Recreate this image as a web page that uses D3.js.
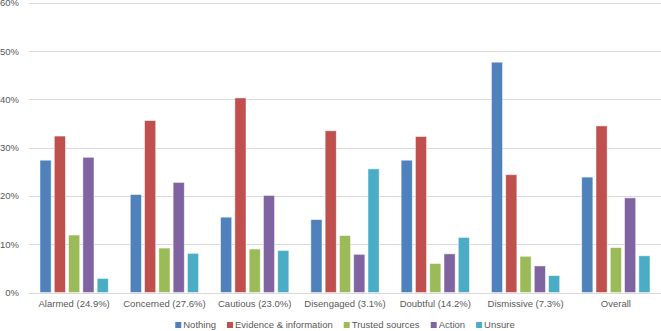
<!DOCTYPE html>
<html>
<head>
<meta charset="utf-8">
<script src="https://cdn.jsdelivr.net/npm/d3@7"></script>
<style>
  html, body { margin: 0; padding: 0; background: #fff; }
  svg { display: block; font-family: "Liberation Sans", Arial, sans-serif; }
</style>
</head>
<body>
<svg width="661" height="331"></svg>
<script>
// segments (x axis)
const categories = ["Alarmed (24.9%)", "Concerned (27.6%)", "Cautious (23.0%)", "Disengaged (3.1%)", "Doubtful (14.2%)", "Dismissive (7.3%)", "Overall"];
const seriesNames = ["Nothing", "Evidence & information", "Trusted sources", "Action", "Unsure"];

// values in percent, one array per series
const nothing   = [27.4, 20.3, 15.6, 15.1, 27.4, 47.7, 23.9];
const evidence  = [32.4, 35.6, 40.3, 33.5, 32.3, 24.4, 34.5];
const trusted   = [11.9,  9.2,  9.0, 11.8,  6.0,  7.5,  9.3];
const action    = [28.0, 22.8, 20.1,  7.9,  8.0,  5.5, 19.6];
const unsure    = [ 2.9,  8.1,  8.7, 25.6, 11.4,  3.5,  7.6];

const yTicks = [0, 10, 20, 30, 40, 50, 60];

const seriesValues = [nothing, evidence, trusted, action, unsure];
const colors = ["#4F81BD", "#C0504D", "#9BBB59", "#8064A2", "#4BACC6"];

const svg = d3.select("svg");
const fontSize = "9.5px";

const x = d3.scaleBand()
            .domain(categories)
            .range([29, 661])
            .padding(0);

const xSub = d3.scaleBand()
               .domain(seriesNames)
               .range([0, x.bandwidth()])
               .paddingInner(0.22)
               .paddingOuter(0.77);

const y = d3.scaleLinear()
            .domain([0, 60])
            .range([292.5, 2.8]);

// grid lines
svg.append("g")
   .selectAll("line")
   .data(yTicks)
   .enter()
   .append("line")
   .attr("x1", 29)
   .attr("x2", 661)
   .attr("y1", d => Math.round(y(d)) + 0.5)
   .attr("y2", d => Math.round(y(d)) + 0.5)
   .attr("stroke", "#D9D9D9")
   .attr("stroke-width", 1);

// y axis labels
const yAxis = svg.append("g")
   .attr("transform", "translate(29,0)")
   .call(d3.axisLeft(y).tickValues(yTicks).tickSize(0).tickPadding(10).tickFormat(d => d + "%"));
yAxis.select(".domain").remove();
yAxis.selectAll("text")
     .attr("fill", "#595959")
     .style("font-size", fontSize)
     .style("font-family", "Liberation Sans, Arial, sans-serif");

// bars
const data = [];
categories.forEach((c, i) => {
  seriesNames.forEach((s, j) => {
    data.push({ cat: c, series: s, value: seriesValues[j][i], color: colors[j] });
  });
});

svg.append("g")
   .selectAll("rect")
   .data(data)
   .enter()
   .append("rect")
   .attr("x", d => x(d.cat) + xSub(d.series))
   .attr("y", d => y(d.value))
   .attr("width", xSub.bandwidth())
   .attr("height", d => y(0) - y(d.value))
   .attr("fill", d => d.color)
   .attr("stroke", "#ffffff")
   .attr("stroke-opacity", 0.6)
   .attr("stroke-width", 0.8);

// x axis labels
const xAxis = svg.append("g")
   .attr("transform", `translate(0, ${y(0)})`)
   .call(d3.axisBottom(x).tickSize(0).tickPadding(8));
xAxis.select(".domain").remove();
xAxis.selectAll("text")
     .attr("fill", "#595959")
     .style("font-size", fontSize)
     .style("font-family", "Liberation Sans, Arial, sans-serif");

// legend
const legend = svg.append("g").attr("transform", "translate(0, 325)");
const items = legend.selectAll("g")
   .data(seriesNames)
   .enter()
   .append("g");

items.append("rect")
     .attr("width", 6)
     .attr("height", 6)
     .attr("y", -3)
     .attr("fill", (d, i) => colors[i]);

items.append("text")
     .attr("x", 8)
     .attr("dy", "0.35em")
     .attr("fill", "#595959")
     .style("font-size", fontSize)
     .text(d => d);

// place items side by side, centred
let offset = 0;
const gap = 11;
const widths = [];
items.each(function() { widths.push(this.getBBox().width); });
const total = d3.sum(widths) + gap * (widths.length - 1);
let start = (29 + 661) / 2 - total / 2;
items.attr("transform", (d, i) => {
  const t = `translate(${start + offset}, 0)`;
  offset += widths[i] + gap;
  return t;
});
</script>
</body>
</html>
